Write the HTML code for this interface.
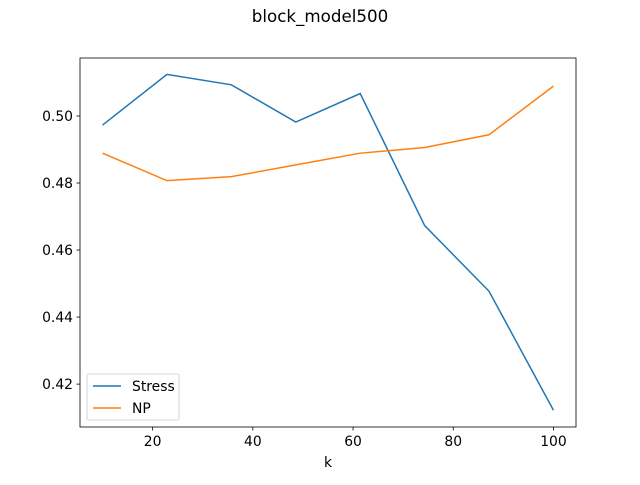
<!DOCTYPE html>
<html><head><meta charset="utf-8"><style>body{margin:0;background:#fff}svg text{font-family:"DejaVu Sans","Liberation Sans",sans-serif}</style></head>
<body>
<svg id="chart" width="640" height="480" xmlns="http://www.w3.org/2000/svg">
<rect width="640" height="480" fill="#fff"/>
<text x="320" y="22" text-anchor="middle" font-size="16.7">block_model500</text>
<g id="plot"></g>
</svg>
<script>
const kValues=[10,22.857,35.714,48.571,61.429,74.286,87.143,100];
const stressValues=[0.4973,0.5124,0.5093,0.4982,0.5067,0.4673,0.4477,0.4122];
const npValues=[0.4889,0.4807,0.4819,0.4854,0.4889,0.4906,0.4944,0.5089];
const xTicks=[20,40,60,80,100];
const yTicks=[0.42,0.44,0.46,0.48,0.50];
const L=80,R=576,T=58,B=427,xmin=5.5,xmax=104.5,ymin=0.4072,ymax=0.5173;
const X=v=>L+(v-xmin)/(xmax-xmin)*(R-L);
const Y=v=>B-(v-ymin)/(ymax-ymin)*(B-T);
const NS="http://www.w3.org/2000/svg";
const g=document.getElementById('plot');
function mk(t,a,p){const e=document.createElementNS(NS,t);for(const k in a)e.setAttribute(k,a[k]);(p||g).appendChild(e);return e;}
xTicks.forEach(v=>{
  const l=mk('line',{x1:X(v),x2:X(v),y1:B,y2:B+3.5,stroke:'#000','stroke-width':0.8});
  
  
  const t=mk('text',{x:X(v),y:B+19,'text-anchor':'middle','font-size':13.9});t.textContent=v;
  
  
});
yTicks.forEach(v=>{
  const l=mk('line',{x1:L-3.5,x2:L,y1:Y(v),y2:Y(v),stroke:'#000','stroke-width':0.8});
  
  
  const t=mk('text',{x:L-7,y:Y(v)+5,'text-anchor':'end','font-size':13.9});t.textContent=v.toFixed(2);
  
  
});
const xl=mk('text',{x:(L+R)/2,y:467,'text-anchor':'middle','font-size':13.9});xl.textContent='k';


function series(vals,color,name){
  const p=mk('polyline',{points:kValues.map((k,i)=>X(k)+','+Y(vals[i])).join(' '),fill:'none',stroke:color,'stroke-width':1.5});
  
  
}
series(stressValues,'#1f77b4','stress-line');
series(npValues,'#ff7f0e','np-line');
const fr=mk('rect',{x:L,y:T,width:R-L,height:B-T,fill:'none',stroke:'#000','stroke-width':0.8});


const lg=mk('g',{});


mk('rect',{x:87,y:374,width:92,height:46,rx:2,fill:'#fff',stroke:'#ccc','stroke-width':0.8},lg);
[['Stress','#1f77b4',386],['NP','#ff7f0e',408]].forEach(([n,c,y])=>{
  const e=mk('g',{},lg);
  
  
  mk('line',{x1:93,x2:121,y1:y,y2:y,stroke:c,'stroke-width':1.5},e);
  const t=mk('text',{x:132,y:y+5,'font-size':13.9},e);t.textContent=n;
});
</script>
</body></html>
